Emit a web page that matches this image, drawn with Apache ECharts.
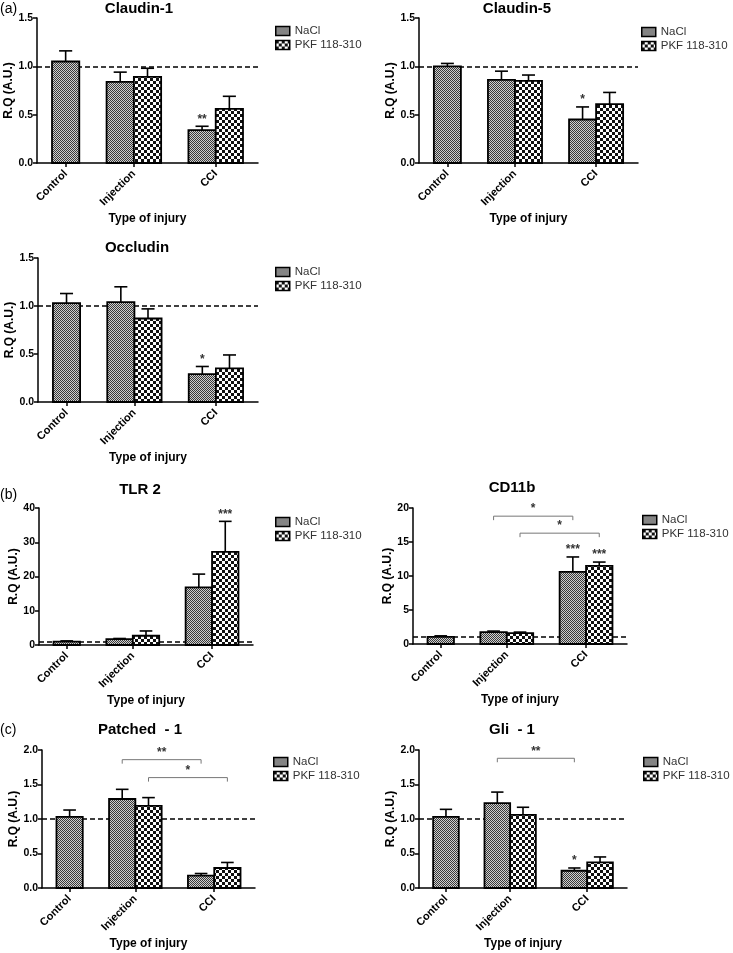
<!DOCTYPE html>
<html>
<head>
<meta charset="utf-8">
<script src="https://cdn.jsdelivr.net/npm/echarts@6/dist/echarts.min.js"></script>
<style>
    html, body { margin: 0; padding: 0; background: #fff; }
    #main { width: 733px; height: 953px; }
</style>
</head>
<body>
<div id="main"></div>
<script>
    // x categories / legend names
    var categories = ['Control', 'Injection', 'CCI'];
    var seriesNames = ['NaCl', 'PKF 118-310'];

    // (a) Claudin-1
    var claudin1Nacl = [1.05, 0.84, 0.34];
    var claudin1NaclSem = [0.11, 0.10, 0.04];
    var claudin1Pkf = [null, 0.89, 0.56];
    var claudin1PkfSem = [null, 0.09, 0.13];
    var claudin1Stars = [['', '', '**'], ['', '', '']];

    // (a) Claudin-5
    var claudin5Nacl = [1.00, 0.86, 0.45];
    var claudin5NaclSem = [0.03, 0.09, 0.13];
    var claudin5Pkf = [null, 0.85, 0.61];
    var claudin5PkfSem = [null, 0.06, 0.12];
    var claudin5Stars = [['', '', '*'], ['', '', '']];

    // (a) Occludin
    var occludinNacl = [1.03, 1.04, 0.29];
    var occludinNaclSem = [0.10, 0.16, 0.08];
    var occludinPkf = [null, 0.87, 0.35];
    var occludinPkfSem = [null, 0.10, 0.14];
    var occludinStars = [['', '', '*'], ['', '', '']];

    // (b) TLR 2
    var tlr2Nacl = [1.0, 1.7, 16.8];
    var tlr2NaclSem = [0.2, 0.2, 3.9];
    var tlr2Pkf = [null, 2.7, 27.2];
    var tlr2PkfSem = [null, 1.4, 8.9];
    var tlr2Stars = [['', '', ''], ['', '', '***']];

    // (b) CD11b
    var cd11bNacl = [1.05, 1.75, 10.6];
    var cd11bNaclSem = [0.15, 0.15, 2.2];
    var cd11bPkf = [null, 1.6, 11.5];
    var cd11bPkfSem = [null, 0.15, 0.55];
    var cd11bStars = [['', '', '***'], ['', '', '***']];
    // brackets: [category, series] from -> to, height, text
    var cd11bBracketFrom = [[1, 0], [1, 1]];
    var cd11bBracketTo = [[2, 0], [2, 1]];
    var cd11bBracketY = [18.8, 16.3];
    var cd11bBracketText = ['*', '*'];

    // (c) Patched - 1
    var patchedNacl = [1.03, 1.29, 0.18];
    var patchedNaclSem = [0.10, 0.14, 0.03];
    var patchedPkf = [null, 1.19, 0.29];
    var patchedPkfSem = [null, 0.12, 0.08];
    var patchedStars = [['', '', ''], ['', '', '']];
    var patchedBracketFrom = [[1, 0], [1, 1]];
    var patchedBracketTo = [[2, 0], [2, 1]];
    var patchedBracketY = [1.86, 1.60];
    var patchedBracketText = ['**', '*'];

    // (c) Gli - 1
    var gliNacl = [1.03, 1.23, 0.25];
    var gliNaclSem = [0.11, 0.16, 0.04];
    var gliPkf = [null, 1.06, 0.37];
    var gliPkfSem = [null, 0.11, 0.08];
    var gliStars = [['', '', '*'], ['', '', '']];
    var gliBracketFrom = [[1, 0]];
    var gliBracketTo = [[2, 0]];
    var gliBracketY = [1.88];
    var gliBracketText = ['**'];

    // bar layout on the x value axis (in bar widths)
    var groupStart = [0.55, 2.55, 5.55];
    var labelPos = [1.05, 3.55, 6.55];
    var xMax = 8.1;

    var FONT = '"Liberation Sans", Arial, sans-serif';

    function makePattern(cell, dark, light) {
        var c = document.createElement('canvas');
        c.width = cell * 2;
        c.height = cell * 2;
        var ctx = c.getContext('2d');
        ctx.fillStyle = light;
        ctx.fillRect(0, 0, cell * 2, cell * 2);
        ctx.fillStyle = dark;
        ctx.fillRect(0, 0, cell, cell);
        ctx.fillRect(cell, cell, cell, cell);
        return { image: c, repeat: 'repeat' };
    }
    var patterns = [makePattern(1, '#3a3a3a', '#cfcfcf'), makePattern(3, '#111', '#fff')];

    var panels = [
        { title: 'Claudin-1', tx: 139, ty: 9, grid: { left: 37, top: 18, width: 221, height: 145 }, yMax: 1.5, step: 0.5, dec: 1, nameGap: 20,
          legend: { left: 270, top: 20 }, nacl: claudin1Nacl, naclSem: claudin1NaclSem, pkf: claudin1Pkf, pkfSem: claudin1PkfSem, stars: claudin1Stars },
        { title: 'Claudin-5', tx: 517, ty: 9, grid: { left: 419, top: 18, width: 219, height: 145 }, yMax: 1.5, step: 0.5, dec: 1, nameGap: 20,
          legend: { left: 636, top: 21 }, nacl: claudin5Nacl, naclSem: claudin5NaclSem, pkf: claudin5Pkf, pkfSem: claudin5PkfSem, stars: claudin5Stars },
        { title: 'Occludin', tx: 137, ty: 248, grid: { left: 38, top: 258, width: 220, height: 144 }, yMax: 1.5, step: 0.5, dec: 1, nameGap: 20,
          legend: { left: 270, top: 261 }, nacl: occludinNacl, naclSem: occludinNaclSem, pkf: occludinPkf, pkfSem: occludinPkfSem, stars: occludinStars },
        { title: 'TLR 2', tx: 140, ty: 490, grid: { left: 39, top: 508, width: 214, height: 137 }, yMax: 40, step: 10, dec: 0, nameGap: 13,
          legend: { left: 270, top: 511 }, nacl: tlr2Nacl, naclSem: tlr2NaclSem, pkf: tlr2Pkf, pkfSem: tlr2PkfSem, stars: tlr2Stars },
        { title: 'CD11b', tx: 512, ty: 488, grid: { left: 413, top: 508, width: 214, height: 136 }, yMax: 20, step: 5, dec: 0, nameGap: 13,
          legend: { left: 637, top: 509 }, nacl: cd11bNacl, naclSem: cd11bNaclSem, pkf: cd11bPkf, pkfSem: cd11bPkfSem, stars: cd11bStars,
          bFrom: cd11bBracketFrom, bTo: cd11bBracketTo, bY: cd11bBracketY, bText: cd11bBracketText },
        { title: 'Patched  - 1', tx: 140, ty: 730, grid: { left: 42, top: 750, width: 213, height: 138 }, yMax: 2, step: 0.5, dec: 1, nameGap: 18,
          legend: { left: 268, top: 751 }, nacl: patchedNacl, naclSem: patchedNaclSem, pkf: patchedPkf, pkfSem: patchedPkfSem, stars: patchedStars,
          bFrom: patchedBracketFrom, bTo: patchedBracketTo, bY: patchedBracketY, bText: patchedBracketText },
        { title: 'Gli  - 1', tx: 512, ty: 730, grid: { left: 419, top: 750, width: 208, height: 138 }, yMax: 2, step: 0.5, dec: 1, nameGap: 18,
          legend: { left: 638, top: 751 }, nacl: gliNacl, naclSem: gliNaclSem, pkf: gliPkf, pkfSem: gliPkfSem, stars: gliStars,
          bFrom: gliBracketFrom, bTo: gliBracketTo, bY: gliBracketY, bText: gliBracketText }
    ];

    function textStyle(text, size, weight, fill, align, vAlign) {
        return {
            text: text, fill: fill, font: weight + ' ' + size + 'px ' + FONT,
            align: align, textAlign: align, verticalAlign: vAlign, textVerticalAlign: vAlign
        };
    }

    function barSeries(p, gi, which) {
        var means = which === 0 ? p.nacl : p.pkf;
        var sems = which === 0 ? p.naclSem : p.pkfSem;
        var stars = p.stars[which];
        var data = [];
        var starText = [];
        means.forEach(function (v, i) {
            if (v != null) {
                data.push([i, v, sems[i]]);
                starText.push(stars[i]);
            }
        });
        var s = {
            type: 'custom',
            name: seriesNames[which],
            xAxisIndex: gi,
            yAxisIndex: gi,
            z: 3,
            encode: { x: 0, y: 1 },
            itemStyle: { color: patterns[which], borderColor: '#000', borderWidth: 1.5 },
            data: data,
            renderItem: function (params, api) {
                var cat = api.value(0), v = api.value(1), sem = api.value(2);
                var x0 = groupStart[cat] + which;
                var tl = api.coord([x0, v]);
                var br = api.coord([x0 + 1, 0]);
                var w = br[0] - tl[0];
                var xc = tl[0] + w / 2;
                var top = api.coord([x0, v + sem])[1];
                var children = [
                    { type: 'line', shape: { x1: xc, y1: tl[1], x2: xc, y2: top }, style: { stroke: '#000', lineWidth: 1.6 } },
                    { type: 'line', shape: { x1: xc - w * 0.24, y1: top, x2: xc + w * 0.24, y2: top }, style: { stroke: '#000', lineWidth: 1.6 } },
                    { type: 'rect', shape: { x: tl[0], y: tl[1], width: w, height: br[1] - tl[1] },
                      style: { fill: patterns[which], stroke: '#000', lineWidth: 1.8 } }
                ];
                var st = starText[params.dataIndex];
                if (st) {
                    children.push({ type: 'text', x: xc, y: top - 1, style: textStyle(st, 12, 'bold', '#333', 'center', 'bottom') });
                }
                return { type: 'group', children: children };
            }
        };
        if (which === 0) {
            // reference line at R.Q = 1
            s.markLine = {
                silent: true, z: 1, symbol: ['none', 'none'], label: { show: false },
                lineStyle: { color: '#000', type: [5, 3], width: 1.5 },
                data: [{ yAxis: 1 }]
            };
        }
        return s;
    }

    function bracketSeries(p, gi) {
        var data = p.bY.map(function (y, i) {
            var x1 = groupStart[p.bFrom[i][0]] + p.bFrom[i][1] + 0.5;
            var x2 = groupStart[p.bTo[i][0]] + p.bTo[i][1] + 0.5;
            return [x1, x2, y];
        });
        return {
            type: 'custom',
            xAxisIndex: gi,
            yAxisIndex: gi,
            z: 4,
            encode: { x: [0, 1], y: 2 },
            data: data,
            renderItem: function (params, api) {
                var a = api.coord([api.value(0), api.value(2)]);
                var b = api.coord([api.value(1), api.value(2)]);
                return {
                    type: 'group',
                    children: [
                        { type: 'polyline', shape: { points: [[a[0], a[1] + 4], a, b, [b[0], b[1] + 4]] },
                          style: { stroke: '#777', lineWidth: 1, fill: 'none' } },
                        { type: 'text', x: (a[0] + b[0]) / 2, y: a[1] - 1,
                          style: textStyle(p.bText[params.dataIndex], 12, 'bold', '#333', 'center', 'bottom') }
                    ]
                };
            }
        };
    }

    var grids = [], xAxes = [], yAxes = [], legends = [], series = [], graphics = [];

    panels.forEach(function (p, gi) {
        grids.push(Object.assign({ outerBoundsMode: 'none', containLabel: false }, p.grid));
        xAxes.push({
            type: 'value', gridIndex: gi, min: 0, max: xMax,
            name: 'Type of injury', nameLocation: 'middle', nameGap: 50,
            nameTextStyle: { fontFamily: FONT, fontWeight: 'bold', fontSize: 12, color: '#000' },
            splitLine: { show: false },
            axisLine: { lineStyle: { color: '#000', width: 1.5 } },
            axisTick: { show: true, length: 4, customValues: labelPos, lineStyle: { color: '#000', width: 1.5 } },
            axisLabel: {
                customValues: labelPos, rotate: 45, margin: 9,
                fontFamily: FONT, fontWeight: 'bold', fontSize: 11, color: '#000',
                formatter: function (v) {
                    var best = 0;
                    labelPos.forEach(function (q, i) { if (Math.abs(q - v) < Math.abs(labelPos[best] - v)) best = i; });
                    return categories[best];
                }
            }
        });
        yAxes.push({
            type: 'value', gridIndex: gi, min: 0, max: p.yMax, interval: p.step,
            name: 'R.Q (A.U.)', nameLocation: 'middle', nameGap: p.nameGap,
            nameTextStyle: { fontFamily: FONT, fontWeight: 'bold', fontSize: 12, color: '#000' },
            splitLine: { show: false },
            axisLine: { show: true, lineStyle: { color: '#000', width: 1.5 } },
            axisTick: { show: true, length: 4, lineStyle: { color: '#000', width: 1.5 } },
            axisLabel: {
                margin: 4, fontFamily: FONT, fontWeight: 'bold', fontSize: 10.5, color: '#000',
                formatter: (function (dec) { return function (v) { return v.toFixed(dec); }; })(p.dec)
            }
        });
        legends.push({
            data: seriesNames, orient: 'vertical', left: p.legend.left, top: p.legend.top,
            icon: 'rect', itemWidth: 14, itemHeight: 9, itemGap: 2, selectedMode: false,
            itemStyle: { borderColor: '#000', borderWidth: 1.5 },
            textStyle: { fontFamily: FONT, fontSize: 11.5, color: '#333' }
        });
        series.push(barSeries(p, gi, 0));
        series.push(barSeries(p, gi, 1));
        if (p.bY) series.push(bracketSeries(p, gi));
        graphics.push({ type: 'text', x: p.tx, y: p.ty, style: textStyle(p.title, 15, 'bold', '#000', 'center', 'middle') });
    });

    // panel letters
    [['(a)', 9], ['(b)', 495], ['(c)', 730]].forEach(function (l) {
        graphics.push({ type: 'text', x: 0, y: l[1], style: textStyle(l[0], 14, 'normal', '#000', 'left', 'middle') });
    });

    var chart = echarts.init(document.getElementById('main'));
    chart.setOption({
        backgroundColor: '#fff',
        animation: false,
        grid: grids,
        xAxis: xAxes,
        yAxis: yAxes,
        legend: legends,
        graphic: graphics,
        series: series
    });
</script>
</body>
</html>
